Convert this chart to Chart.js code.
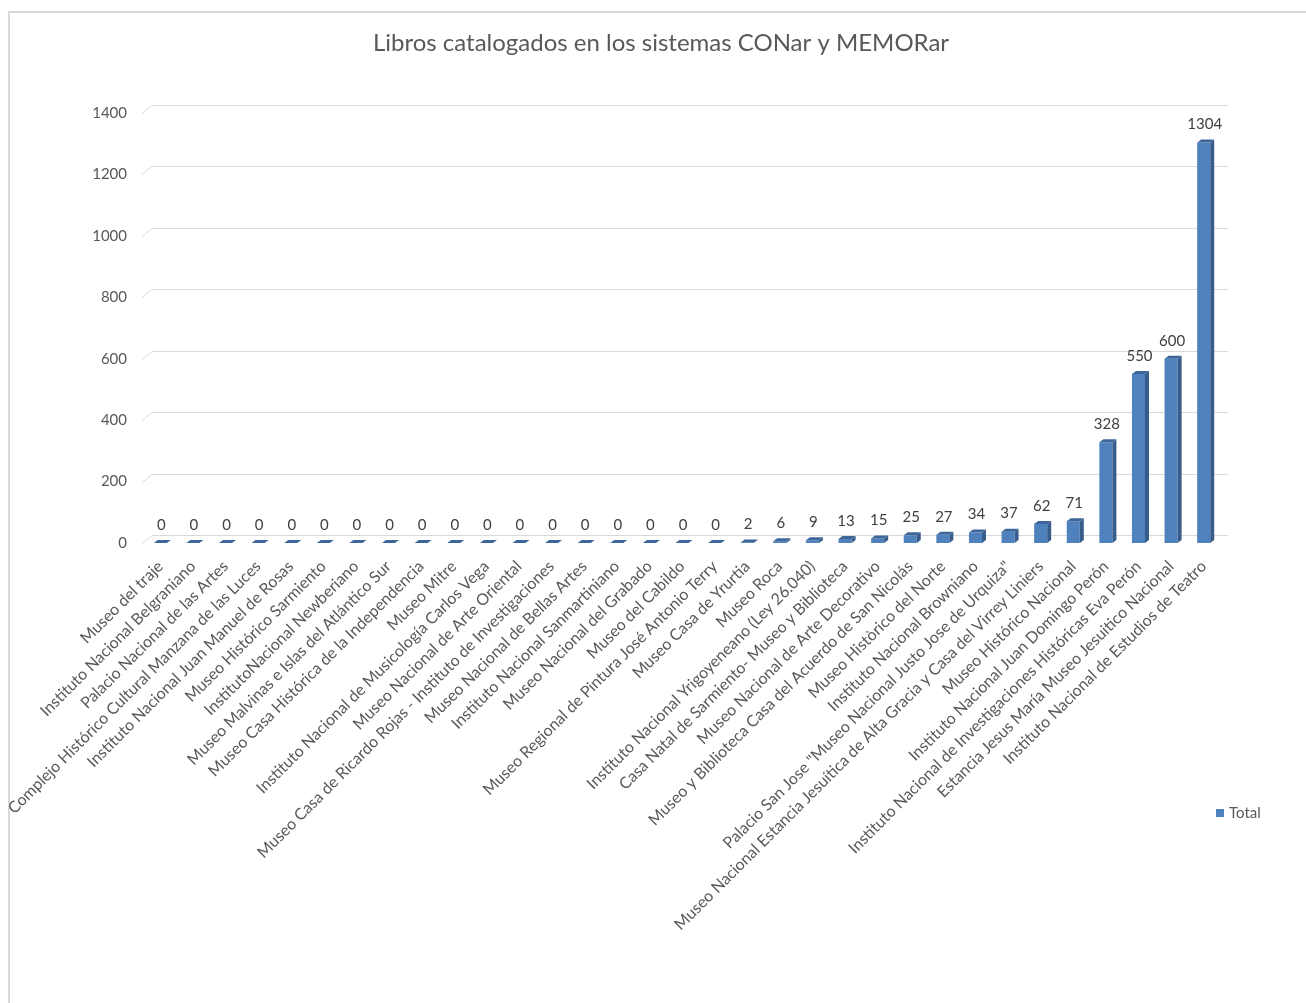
<!DOCTYPE html>
<html>
<head>
<meta charset="utf-8">
<script src="https://cdn.jsdelivr.net/npm/chart.js@4.4.1/dist/chart.umd.min.js"></script>
<style>
  html, body { margin: 0; padding: 0; background: #ffffff; }
  #frame { position: absolute; left: 8px; top: 11px; width: 1298px; height: 992px; border-left: 2px solid #d9d9d9; border-top: 2px solid #d9d9d9; }
  #wrap { position: absolute; left: 0; top: 0; width: 1306px; height: 1003px; }
</style>
</head>
<body>
<div id="frame"></div>
<div id="wrap"><canvas id="librosChart" width="1306" height="1003"></canvas></div>
<script>
// datos del grafico
const titleText = 'Libros catalogados en los sistemas CONar y MEMORar'
const seriesName = 'Total'

const museos = [
    'Museo del traje',
    'Instituto Nacional Belgraniano',
    'Palacio Nacional de las Artes',
    'Complejo Histórico Cultural Manzana de las Luces',
    'Instituto Nacional Juan Manuel de Rosas',
    'Museo Histórico Sarmiento',
    'InstitutoNacional Newberiano',
    'Museo Malvinas e Islas del Atlántico Sur',
    'Museo Casa Histórica de la Independencia',
    'Museo Mitre',
    'Instituto Nacional de Musicología Carlos Vega',
    'Museo Nacional de Arte Oriental',
    'Museo Casa de Ricardo Rojas - Instituto de Investigaciones',
    'Museo Nacional de Bellas Artes',
    'Instituto Nacional Sanmartiniano',
    'Museo Nacional del Grabado',
    'Museo del Cabildo',
    'Museo Regional de Pintura José Antonio Terry',
    'Museo Casa de Yrurtia',
    'Museo Roca',
    'Instituto Nacional Yrigoyeneano (Ley 26.040)',
    'Casa Natal de Sarmiento- Museo y Biblioteca',
    'Museo Nacional de Arte Decorativo',
    'Museo y Biblioteca Casa del Acuerdo de San Nicolás',
    'Museo Històrico del Norte',
    'Instituto Nacional Browniano',
    'Palacio San Jose "Museo Nacional Justo Jose de Urquiza"',
    'Museo Nacional Estancia Jesuítica de Alta Gracia y Casa del Virrey Liniers',
    'Museo Histórico Nacional',
    'Instituto Nacional Juan Domingo Perón',
    'Instituto Nacional de Investigaciones Históricas Eva Perón',
    'Estancia Jesus María Museo Jesuitico Nacional',
    'Instituto Nacional de Estudios de Teatro'
]

const totales = [0, 0, 0, 0, 0, 0, 0, 0, 0, 0, 0, 0, 0, 0, 0, 0, 0, 0,
    2, 6, 9, 13, 15, 25, 27, 34, 37, 62, 71, 328, 550, 600, 1304]

const yMin = 0
const yMax = 1400
const yStep = 200

// colores
const frontColor = '#4f81bd'
const sideColor = '#385d8a'
const topColor = '#3d679b'
const gridColor = '#d9d9d9'
const textColor = '#595959'
const fontName = 'Lato'

// profundidad 3d
const barDx = 4
const barDy = 3
const wallDx = 10
const wallDy = 8

// titulo centrado en todo el lienzo
const centeredTitle = {
    id: 'centeredTitle',
    afterDraw(chart){
        const ctx = chart.ctx
        ctx.save()
        ctx.fillStyle = textColor
        ctx.font = '24px ' + fontName
        ctx.textAlign = 'center'
        ctx.textBaseline = 'middle'
        ctx.fillText(titleText, 661, 43)
        ctx.restore()
    }
}

// lineas de la pared del fondo
const wallGrid = {
    id: 'wallGrid',
    beforeDatasetsDraw(chart){
        const ctx = chart.ctx
        const yScale = chart.scales.y
        const area = chart.chartArea
        ctx.save()
        ctx.strokeStyle = gridColor
        ctx.lineWidth = 1
        yScale.ticks.forEach(function(tick){
            const py = Math.round(yScale.getPixelForValue(tick.value)) + 0.5
            ctx.beginPath()
            ctx.moveTo(area.left - 2, py)
            ctx.lineTo(area.left - 2 + wallDx, py - wallDy)
            ctx.lineTo(area.right + 8, py - wallDy)
            ctx.stroke()
        })
        ctx.restore()
    }
}

// caras laterales y superiores de las barras
const bars3d = {
    id: 'bars3d',
    afterDatasetsDraw(chart){
        const ctx = chart.ctx
        const meta = chart.getDatasetMeta(0)
        ctx.save()
        meta.data.forEach(function(bar, i){
            const half = bar.width / 2
            const left = bar.x - half
            const right = bar.x + half
            const top = bar.y
            const bottom = bar.base

            ctx.fillStyle = sideColor
            ctx.beginPath()
            ctx.moveTo(right, top)
            ctx.lineTo(right + barDx, top - barDy)
            ctx.lineTo(right + barDx, bottom - barDy)
            ctx.lineTo(right, bottom)
            ctx.closePath()
            ctx.fill()

            ctx.fillStyle = topColor
            ctx.beginPath()
            ctx.moveTo(left, top)
            ctx.lineTo(left + barDx, top - barDy)
            ctx.lineTo(right + barDx, top - barDy)
            ctx.lineTo(right, top)
            ctx.closePath()
            ctx.fill()

            // etiqueta de valor
            ctx.fillStyle = '#404040'
            ctx.font = '15px ' + fontName
            ctx.textAlign = 'center'
            ctx.textBaseline = 'middle'
            ctx.fillText(String(totales[i]), bar.x + 1, top - 18)
        })
        ctx.restore()
    }
}

// leyenda a la derecha, abajo
const sideLegend = {
    id: 'sideLegend',
    afterDraw(chart){
        const ctx = chart.ctx
        ctx.save()
        ctx.fillStyle = frontColor
        ctx.fillRect(1216, 809, 8, 8)
        ctx.fillStyle = textColor
        ctx.font = '15px ' + fontName
        ctx.textAlign = 'left'
        ctx.textBaseline = 'middle'
        ctx.fillText(chart.data.datasets[0].label, 1229, 813)
        ctx.restore()
    }
}

const canvasLibros = document.getElementById('librosChart')

new Chart(canvasLibros, {
    type: 'bar',
    data: {
        labels: museos,
        datasets: [{
            label: seriesName,
            data: totales,
            backgroundColor: frontColor,
            borderWidth: 0,
            barPercentage: 0.4,
            categoryPercentage: 1
        }]
    },
    options: {
        responsive: false,
        animation: false,
        layout: {
            padding: { left: 0, right: 86, top: 113, bottom: 0 }
        },
        plugins: {
            legend: { display: false },
            tooltip: { enabled: false },
            title: { display: false }
        },
        scales: {
            x: {
                grid: { display: false, drawTicks: false },
                border: { display: false },
                ticks: {
                    autoSkip: false,
                    maxRotation: 45,
                    minRotation: 45,
                    padding: 14,
                    color: textColor,
                    font: { family: fontName, size: 16 }
                },
                afterFit: function(scale){
                    scale.height = 460
                }
            },
            y: {
                min: yMin,
                max: yMax,
                grid: { display: false, drawTicks: false },
                border: { display: false },
                ticks: {
                    stepSize: yStep,
                    padding: 17,
                    color: textColor,
                    font: { family: fontName, size: 15 },
                    callback: function(value){
                        return String(value)
                    }
                },
                afterFit: function(scale){
                    scale.width = 144
                }
            }
        }
    },
    plugins: [wallGrid, bars3d, sideLegend, centeredTitle]
})
</script>
</body>
</html>
